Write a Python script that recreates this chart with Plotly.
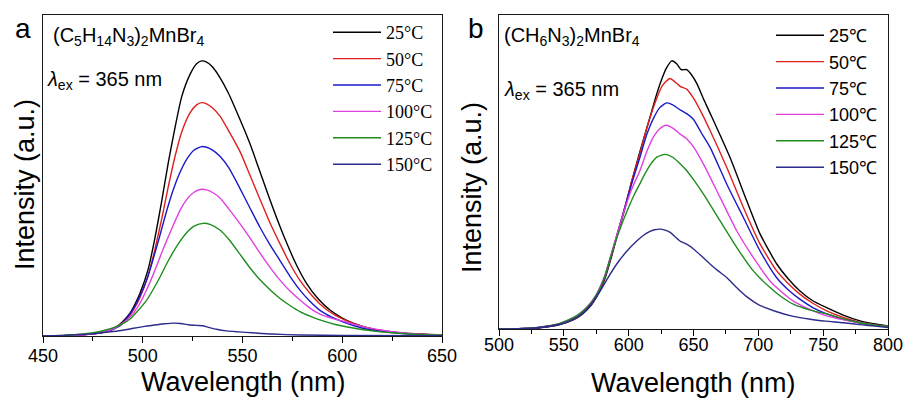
import plotly.graph_objects as go

W, H = 904, 399

# ---------------- Panel a: (C5H14N3)2MnBr4 ----------------
labels_a = ["25°C", "50°C", "75°C", "100°C", "125°C", "150°C"]

wl_a_25 = [450, 460, 470, 478, 483, 487, 490, 493.6, 496, 498.6, 502.8, 506.1, 509.5, 512.8, 516.2, 519.5,
           523.7, 527, 529.5, 532, 535, 538.7, 542.9, 548.7, 553.8, 558, 562, 567, 572, 577, 582, 588, 594,
           600, 605.5, 615, 625, 637, 650]
int_a_25 = [0, 0.001, 0.004, 0.009, 0.016, 0.029, 0.045, 0.071, 0.098, 0.133, 0.21, 0.305, 0.42, 0.54, 0.65,
            0.745, 0.815, 0.848, 0.857, 0.853, 0.838, 0.805, 0.757, 0.675, 0.598, 0.525, 0.455, 0.37, 0.292,
            0.222, 0.165, 0.115, 0.08, 0.056, 0.04, 0.022, 0.013, 0.007, 0.003]

wl_a_50 = [450, 460, 470, 478, 483, 487, 490, 493.6, 496, 498.6, 502.8, 506.1, 509.5, 512.8, 516.2, 519.5,
           523.7, 527, 529.5, 532, 535, 538.7, 543, 548.7, 553.8, 558.8, 563.8, 568.8, 573.8, 578.8, 583.8,
           588.8, 595, 602, 610, 617, 625, 637, 650]
int_a_50 = [0, 0.001, 0.004, 0.009, 0.016, 0.028, 0.042, 0.065, 0.088, 0.12, 0.19, 0.27, 0.365, 0.465, 0.56,
            0.635, 0.695, 0.72, 0.727, 0.723, 0.71, 0.685, 0.64, 0.575, 0.5, 0.425, 0.352, 0.287, 0.225, 0.173,
            0.133, 0.1, 0.07, 0.048, 0.03, 0.02, 0.012, 0.006, 0.003]

wl_a_75 = [450, 460, 470, 478, 483, 488.6, 492, 495.3, 498.6, 502, 505, 508, 512, 515, 518, 522, 525.5,
           529.5, 532, 535, 538.7, 543, 548.7, 553.8, 558.8, 563.8, 568.8, 573.8, 578.8, 583.8, 588.8, 595,
           600, 606, 612, 625, 637, 650]
int_a_75 = [0, 0.001, 0.004, 0.009, 0.016, 0.032, 0.055, 0.085, 0.125, 0.175, 0.235, 0.3, 0.39, 0.45, 0.5,
            0.55, 0.578, 0.590, 0.588, 0.579, 0.56, 0.525, 0.46, 0.398, 0.338, 0.284, 0.235, 0.186, 0.143,
            0.108, 0.08, 0.058, 0.045, 0.032, 0.022, 0.011, 0.005, 0.002]

wl_a_100 = [450, 460, 470, 478, 483, 487, 492, 495.5, 498.6, 502, 505.3, 510.3, 515.3, 519, 522, 525.5,
            529.5, 532, 535, 538.7, 543, 548.7, 553.8, 558.8, 563.8, 568.8, 573.8, 578.8, 583.8, 588.8, 595,
            600, 606, 612, 620, 630, 640, 650]
int_a_100 = [0, 0.001, 0.004, 0.01, 0.017, 0.028, 0.05, 0.073, 0.102, 0.145, 0.192, 0.272, 0.345, 0.395,
             0.425, 0.447, 0.457, 0.455, 0.447, 0.43, 0.397, 0.35, 0.305, 0.258, 0.214, 0.174, 0.14, 0.112,
             0.087, 0.068, 0.055, 0.047, 0.036, 0.027, 0.018, 0.01, 0.005, 0.003]

wl_a_125 = [450, 460, 470, 476, 481, 487, 490.5, 493.6, 497, 502, 505.5, 508.6, 512, 515.3, 519, 522, 526,
            530.3, 534, 538.7, 543, 548.7, 553.8, 558.8, 563.8, 568.8, 573.8, 578.8, 583.8, 588.8, 597,
            605.5, 615, 625, 637, 650]
int_a_125 = [0, 0.002, 0.006, 0.011, 0.018, 0.03, 0.04, 0.053, 0.075, 0.112, 0.148, 0.183, 0.225, 0.262,
             0.298, 0.322, 0.343, 0.351, 0.347, 0.33, 0.302, 0.255, 0.212, 0.175, 0.144, 0.117, 0.095, 0.076,
             0.062, 0.05, 0.035, 0.025, 0.016, 0.01, 0.005, 0.003]

wl_a_150 = [450, 460, 470, 478, 485, 490, 495.3, 501, 507, 511, 515.3, 519, 523, 527, 530, 533, 537, 542,
            548, 555, 565, 578.8, 600, 650]
int_a_150 = [0, 0.002, 0.005, 0.009, 0.014, 0.018, 0.024, 0.03, 0.035, 0.038, 0.040, 0.039, 0.035, 0.033,
             0.032, 0.027, 0.021, 0.016, 0.013, 0.01, 0.006, 0.003, 0.002, 0.001]

# ---------------- Panel b: (CH6N3)2MnBr4 ----------------
labels_b = ["25℃", "50℃", "75℃", "100℃", "125℃", "150℃"]

wl_b_25 = [500, 515, 531.6, 547, 557.3, 562, 567.6, 571.5, 575.3, 578.5, 581.7, 586.9, 592, 597.2, 602.3, 608,
           616.5, 621, 625, 629, 633.2, 637, 640.5, 644.7, 648, 652.5, 658, 665.3, 678.1, 691, 701.3, 714.2,
           723, 732.1, 742, 752.7, 765, 778.4, 790, 800]
int_b_25 = [0, 0.001, 0.004, 0.014, 0.029, 0.04, 0.06, 0.078, 0.102, 0.128, 0.16, 0.232, 0.31, 0.385, 0.47,
            0.555, 0.675, 0.74, 0.79, 0.83, 0.854, 0.845, 0.826, 0.826, 0.812, 0.782, 0.73, 0.665, 0.547, 0.409,
            0.303, 0.207, 0.16, 0.121, 0.09, 0.068, 0.045, 0.026, 0.016, 0.01]

wl_b_50 = [500, 515, 531.6, 547, 557.3, 562, 567.6, 571.5, 575.3, 578.5, 581.7, 586.9, 592, 597.2, 602.3,
           608.7, 614, 620.3, 626, 631.9, 636, 640, 644.7, 650, 656, 662.7, 675.6, 688.4, 701.3, 714.2, 723,
           732, 742, 752.7, 765, 778, 790, 800]
int_b_50 = [0, 0.001, 0.005, 0.015, 0.031, 0.042, 0.063, 0.081, 0.105, 0.131, 0.164, 0.236, 0.313, 0.39, 0.47,
            0.56, 0.64, 0.72, 0.775, 0.798, 0.786, 0.772, 0.764, 0.735, 0.69, 0.633, 0.515, 0.388, 0.271, 0.185,
            0.145, 0.111, 0.082, 0.058, 0.038, 0.022, 0.013, 0.008]

wl_b_75 = [500, 515, 531.6, 547, 557.3, 562, 567.6, 571.5, 575.3, 578.5, 581.7, 586.9, 592, 597.2, 602.3,
           608.7, 614, 619, 624, 629.3, 634, 640, 645, 649.9, 656, 662.7, 675.6, 688.4, 701.3, 714, 723, 732,
           742, 752.7, 765, 778, 790, 800]
int_b_75 = [0, 0.001, 0.005, 0.016, 0.033, 0.044, 0.065, 0.083, 0.107, 0.134, 0.167, 0.24, 0.315, 0.39, 0.462,
            0.547, 0.62, 0.67, 0.705, 0.72, 0.714, 0.697, 0.685, 0.668, 0.625, 0.579, 0.462, 0.356, 0.249, 0.164,
            0.125, 0.095, 0.068, 0.048, 0.032, 0.02, 0.012, 0.008]

wl_b_100 = [500, 515, 531.6, 547, 557.3, 562, 567.6, 571.5, 575.3, 578.5, 581.7, 586.9, 592, 597.2, 602.3,
            608.7, 614, 619, 624, 629, 634, 640, 644.7, 650, 657.6, 670.4, 683.3, 696.1, 709, 718, 727, 740,
            752.7, 765, 778, 790, 800]
int_b_100 = [0, 0.001, 0.006, 0.018, 0.036, 0.048, 0.069, 0.088, 0.112, 0.139, 0.172, 0.244, 0.315, 0.385,
             0.445, 0.505, 0.565, 0.611, 0.638, 0.649, 0.64, 0.62, 0.606, 0.58, 0.526, 0.42, 0.313, 0.228, 0.153,
             0.118, 0.089, 0.062, 0.042, 0.03, 0.02, 0.012, 0.008]

wl_b_125 = [500, 515, 531.6, 547, 557.3, 562, 567.6, 571.5, 575.3, 578.5, 581.7, 586.9, 593, 599, 604, 608.7,
            612, 616.5, 622, 628, 634, 640, 644.7, 651, 657.6, 670.4, 683.3, 696.1, 709, 718, 727, 740, 752.7,
            765, 778, 790, 800]
int_b_125 = [0, 0.001, 0.006, 0.018, 0.036, 0.048, 0.068, 0.086, 0.11, 0.136, 0.168, 0.24, 0.315, 0.378,
             0.425, 0.463, 0.49, 0.522, 0.548, 0.556, 0.547, 0.525, 0.505, 0.47, 0.43, 0.345, 0.26, 0.185, 0.132,
             0.102, 0.079, 0.06, 0.048, 0.033, 0.02, 0.012, 0.008]

wl_b_150 = [500, 515, 531.6, 547, 557.3, 562, 567.6, 573, 577.9, 584, 590.8, 598, 606.2, 611, 616.5, 620,
            624.2, 628, 632, 636, 640, 644.7, 650, 656, 662.7, 669, 675.6, 683, 691, 700, 714.2, 727, 740, 752,
            765.5, 780, 790, 800]
int_b_150 = [0, 0.001, 0.005, 0.015, 0.031, 0.042, 0.062, 0.09, 0.12, 0.163, 0.207, 0.245, 0.28, 0.297, 0.311,
             0.316, 0.318, 0.315, 0.308, 0.293, 0.279, 0.27, 0.255, 0.233, 0.207, 0.185, 0.164, 0.133, 0.103,
             0.078, 0.055, 0.04, 0.031, 0.025, 0.02, 0.013, 0.009, 0.005]

series_a = [(wl_a_25, int_a_25), (wl_a_50, int_a_50), (wl_a_75, int_a_75),
            (wl_a_100, int_a_100), (wl_a_125, int_a_125), (wl_a_150, int_a_150)]
series_b = [(wl_b_25, int_b_25), (wl_b_50, int_b_50), (wl_b_75, int_b_75),
            (wl_b_100, int_b_100), (wl_b_125, int_b_125), (wl_b_150, int_b_150)]

range_a = [450, 650]
range_b = [500, 800]
tick_step = 50
minor_step = 25

colors = ["#000000", "#e0201c", "#1a1ac8", "#e040e0", "#1e8c1e", "#2c2c8c"]

SANS = "Arial, Liberation Sans, sans-serif"
SERIF = "Times New Roman, Liberation Serif, serif"

fig = go.Figure()
for (x, y), name, c in zip(series_a, labels_a, colors):
    fig.add_trace(go.Scatter(x=x, y=y, mode="lines", name=name, xaxis="x", yaxis="y",
                             line=dict(color=c, width=1.4, shape="spline", smoothing=0.6),
                             legend="legend"))
for (x, y), name, c in zip(series_b, labels_b, colors):
    fig.add_trace(go.Scatter(x=x, y=y, mode="lines", name=name, xaxis="x2", yaxis="y2",
                             line=dict(color=c, width=1.4, shape="spline", smoothing=0.6),
                             legend="legend2"))


def xax(dom, rng, anchor, standoff):
    return dict(domain=dom, range=rng, tick0=rng[0], dtick=tick_step, ticks="outside", ticklen=6,
                tickwidth=1.2, tickcolor="black", ticklabelstandoff=standoff,
                minor=dict(dtick=minor_step, ticks="outside", ticklen=4, tickwidth=1.2, tickcolor="black"),
                showline=True, linecolor="#1a1a1a", linewidth=1.4, mirror=True, showgrid=False,
                zeroline=False, tickfont=dict(family=SANS, size=18, color="black"), anchor=anchor,
                automargin=False)


def yax(dom, anchor):
    return dict(domain=dom, range=[0, 1], showticklabels=False, ticks="", showline=True,
                linecolor="#1a1a1a", linewidth=1.4, mirror=True, showgrid=False, zeroline=False,
                anchor=anchor, automargin=False)


def P(x, y):
    return x / W, 1 - y / H


annots = []


def txt(text, x, y, size, family=SANS, xanchor="center", angle=0):
    px, py = P(x, y)
    annots.append(dict(text=text, x=px, y=py, xref="paper", yref="paper", xanchor=xanchor,
                       yanchor="middle", showarrow=False, textangle=angle,
                       font=dict(family=family, size=size, color="black")))


txt("a", 23, 28, 28)
txt("b", 476, 28, 28)
txt("(C<sub>5</sub>H<sub>14</sub>N<sub>3</sub>)<sub>2</sub>MnBr<sub>4</sub>", 51, 37, 20, xanchor="left")
txt("(CH<sub>6</sub>N<sub>3</sub>)<sub>2</sub>MnBr<sub>4</sub>", 502, 37, 20, xanchor="left")
txt("<i>λ</i><sub>ex</sub> = 365 nm", 45, 80, 20, xanchor="left")
txt("<i>λ</i><sub>ex</sub> = 365 nm", 502, 90, 20, xanchor="left")
txt("Intensity (a.u.)", 25, 185, 27, angle=-90)
txt("Intensity (a.u.)", 472, 188, 27, angle=-90)
txt("Wavelength (nm)", 243, 382, 27)
txt("Wavelength (nm)", 693, 383, 27)

la = P(328, 14)
lb = P(771, 17)

fig.update_layout(
    width=W, height=H, margin=dict(l=0, r=0, t=0, b=0, autoexpand=False),
    paper_bgcolor="white", plot_bgcolor="white",
    xaxis=xax([43 / W, 442 / W], range_a, "y", -3),
    yaxis=yax([1 - 336 / H, 1 - 15 / H], "x"),
    xaxis2=xax([499 / W, 888 / W], range_b, "y2", -7),
    yaxis2=yax([1 - 329 / H, 1 - 15 / H], "x2"),
    legend=dict(x=la[0], y=la[1], xanchor="left", yanchor="top", bgcolor="rgba(0,0,0,0)",
                font=dict(family=SERIF, size=18, color="black"), itemwidth=48, traceorder="normal"),
    legend2=dict(x=lb[0], y=lb[1], xanchor="left", yanchor="top", bgcolor="rgba(0,0,0,0)",
                 font=dict(family=SANS, size=18, color="black"), itemwidth=48, traceorder="normal"),
    annotations=annots,
    showlegend=True,
)

fig.write_html("out.html", config={"displayModeBar": False},
               post_script="document.body.style.margin='0px';")
